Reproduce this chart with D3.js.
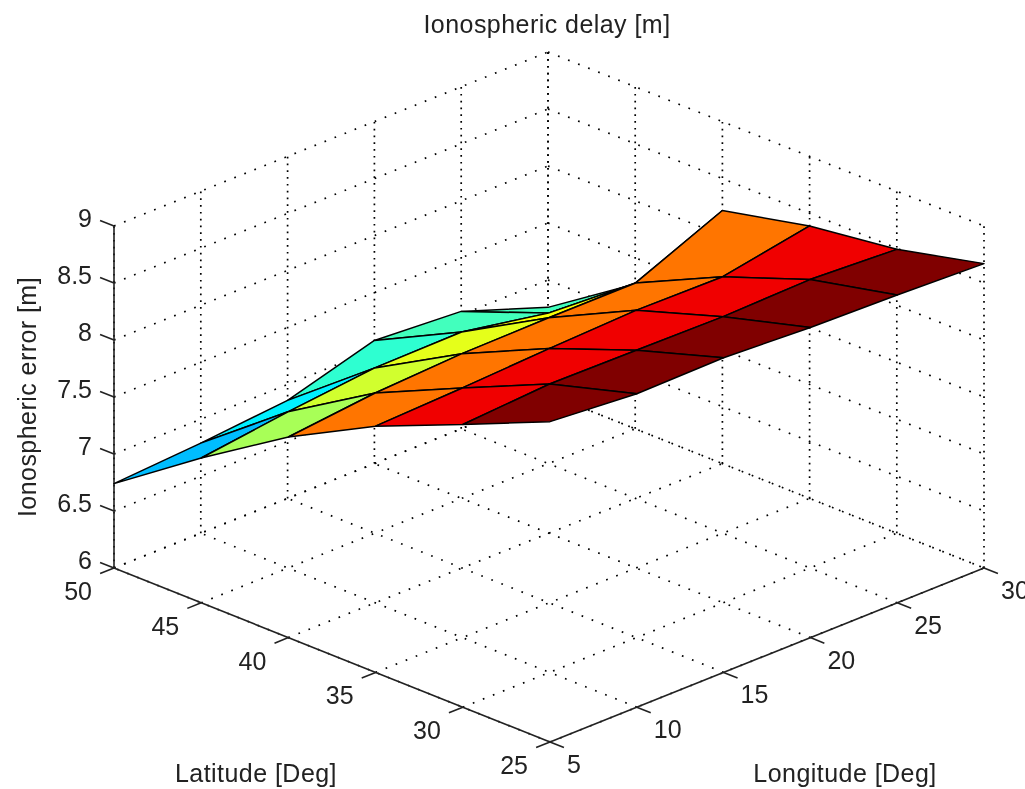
<!DOCTYPE html>
<html>
<head>
<meta charset="utf-8">
<script src="https://d3js.org/d3.v7.min.js"></script>
<style>
  html, body { margin: 0; padding: 0; background: #fff; overflow: hidden; }
  text { font-family: "Liberation Sans", Arial, sans-serif; font-size: 25px; fill: #222; }
  .label { letter-spacing: 0.45px; }
</style>
</head>
<body>
<div id="viz"></div>
<script>
const lonTicks = [5, 10, 15, 20, 25, 30]
const latTicks = [25, 30, 35, 40, 45, 50]
const zTicks = [6, 6.5, 7, 7.5, 8, 8.5, 9]

// rows are latitude, columns are longitude
const delay25 = [8.81, 8.75, 8.76, 8.72, 8.70, 8.67]
const delay30 = [8.48, 8.53, 8.52, 8.51, 8.53, 8.49]
const delay35 = [8.16, 8.19, 8.23, 8.26, 8.25, 8.39]
const delay40 = [7.76, 7.84, 7.88, 7.89, 7.89, 8.22]
const delay45 = [7.27, 7.37, 7.45, 7.46, 7.32, 7.27]
const delay50 = [6.74, 6.79, 6.86, 7.08, 7.03, 6.76]
const delays = [delay25, delay30, delay35, delay40, delay45, delay50]

// colour value of each face (0 = jet low, 1 = jet high)
const color25 = [1, 1, 1, 1, 1]
const color30 = [0.89, 0.89, 0.89, 0.89, 0.89]
const color35 = [0.76, 0.76, 0.76, 0.76, 0.76]
const color40 = [0.54, 0.58, 0.6, 0.62, 0.63]
const color45 = [0.31, 0.36, 0.42, 0.44, 0.44]
const faceColors = [color25, color30, color35, color40, color45]

let width = 1025,
    height = 789;

// Oblique view: each data axis adds its own screen offset
let lonX = d3.scaleLinear().domain([5, 30]).range([0, 434])
let lonY = d3.scaleLinear().domain([5, 30]).range([0, -174])
let latX = d3.scaleLinear().domain([25, 50]).range([0, -436])
let latY = d3.scaleLinear().domain([25, 50]).range([0, -174])
let zY = d3.scaleLinear().domain([6, 9]).range([0, -342])

let jet = d3.scaleLinear()
            .domain([0, 0.125, 0.375, 0.625, 0.875, 1])
            .range(['#000080', '#0000ff', '#00ffff', '#ffff00', '#ff0000', '#800000'])

const originX = 550, originY = 742

function project(lon, lat, z) {
  return [originX + lonX(lon) + latX(lat), originY + lonY(lon) + latY(lat) + zY(z)]
}

let path = d3.line()

// the reference is a soft jpeg, so take the edge off everything a little
let svg = d3.select('#viz')
            .append('svg')
            .attr('width', width)
            .attr('height', height)
            .style('display', 'block')
            .style('background', '#fff')
            .style('filter', 'blur(0.4px)')

// Setup grid lines: floor, wall at lat 50, wall at lon 30
let gridV = [], gridD = []
lonTicks.forEach(lon => {
  gridD.push([project(lon, 25, 6), project(lon, 50, 6)])
  gridV.push([project(lon, 50, 6), project(lon, 50, 9)])
})
latTicks.forEach(lat => {
  gridD.push([project(5, lat, 6), project(30, lat, 6)])
  gridV.push([project(30, lat, 6), project(30, lat, 9)])
})
zTicks.forEach(z => {
  gridD.push([project(5, 50, z), project(30, 50, z)])
  gridD.push([project(30, 50, z), project(30, 25, z)])
})

svg.selectAll('.gridD')
   .data(gridD)
   .enter()
     .append('path')
     .attr('class', 'gridD')
     .attr('d', path)
     .attr('fill', 'none')
     .attr('stroke', '#000')
     .attr('stroke-width', 1.7)
     .attr('stroke-dasharray', '1.7 9.1')

svg.selectAll('.gridV')
   .data(gridV)
   .enter()
     .append('path')
     .attr('class', 'gridV')
     .attr('d', path)
     .attr('fill', 'none')
     .attr('stroke', '#000')
     .attr('stroke-width', 1.7)
     .attr('stroke-dasharray', '1.7 5.1')

// Setup axis lines
let axisLines = [
  [project(5, 25, 6), project(30, 25, 6)],
  [project(5, 25, 6), project(5, 50, 6)],
  [project(5, 50, 6), project(5, 50, 9)]
]
lonTicks.forEach(lon => axisLines.push([project(lon, 25, 6), project(lon, 24.2, 6)]))
latTicks.forEach(lat => axisLines.push([project(5, lat, 6), project(4.2, lat, 6)]))
zTicks.forEach(z => axisLines.push([project(5, 50, z), project(5, 50.8, z)]))

svg.selectAll('.axis')
   .data(axisLines)
   .enter()
     .append('path')
     .attr('class', 'axis')
     .attr('d', path)
     .attr('fill', 'none')
     .attr('stroke', '#222')
     .attr('stroke-width', 1.6)

// Setup surface faces, far ones first so near ones paint over them
let faces = []
faceColors.forEach((row, i) => {
  row.forEach((c, j) => {
    faces.push({
      depth: i + j,
      color: c,
      points: [
        project(lonTicks[j], latTicks[i], delays[i][j]),
        project(lonTicks[j + 1], latTicks[i], delays[i][j + 1]),
        project(lonTicks[j + 1], latTicks[i + 1], delays[i + 1][j + 1]),
        project(lonTicks[j], latTicks[i + 1], delays[i + 1][j])
      ]
    })
  })
})
faces.sort((a, b) => b.depth - a.depth)

svg.selectAll('.face')
   .data(faces)
   .enter()
     .append('path')
     .attr('class', 'face')
     .attr('d', d => path(d.points) + 'Z')
     .style('fill', d => jet(d.color))
     .attr('stroke', '#000')
     .attr('stroke-width', 1.5)
     .attr('stroke-linejoin', 'round')

// Tick labels
svg.selectAll('.zLabel')
   .data(zTicks)
   .enter()
     .append('text')
     .attr('class', 'zLabel')
     .attr('x', d => project(5, 50, d)[0] - 22)
     .attr('y', d => project(5, 50, d)[1] - 8)
     .attr('text-anchor', 'end')
     .attr('dominant-baseline', 'central')
     .text(d => d)

svg.selectAll('.latLabel')
   .data(latTicks)
   .enter()
     .append('text')
     .attr('class', 'latLabel')
     .attr('x', d => project(5, d, 6)[0] - 22)
     .attr('y', d => project(5, d, 6)[1] + 23)
     .attr('text-anchor', 'end')
     .attr('dominant-baseline', 'central')
     .text(d => d)

svg.selectAll('.lonLabel')
   .data(lonTicks)
   .enter()
     .append('text')
     .attr('class', 'lonLabel')
     .attr('x', d => project(d, 25, 6)[0] + 17)
     .attr('y', d => project(d, 25, 6)[1] + 22)
     .attr('dominant-baseline', 'central')
     .text(d => d)

// Titles
svg.append('text')
   .attr('class', 'label')
   .attr('x', 547)
   .attr('y', 33)
   .attr('text-anchor', 'middle')
   .text('Ionospheric delay [m]')

svg.append('text')
   .attr('class', 'label')
   .attr('x', 256)
   .attr('y', 782)
   .attr('text-anchor', 'middle')
   .text('Latitude [Deg]')

svg.append('text')
   .attr('class', 'label')
   .attr('x', 845)
   .attr('y', 782)
   .attr('text-anchor', 'middle')
   .text('Longitude [Deg]')

svg.append('text')
   .attr('class', 'label')
   .attr('transform', 'translate(36,397) rotate(-90)')
   .attr('text-anchor', 'middle')
   .text('Ionospheric error [m]')
</script>
</body>
</html>
